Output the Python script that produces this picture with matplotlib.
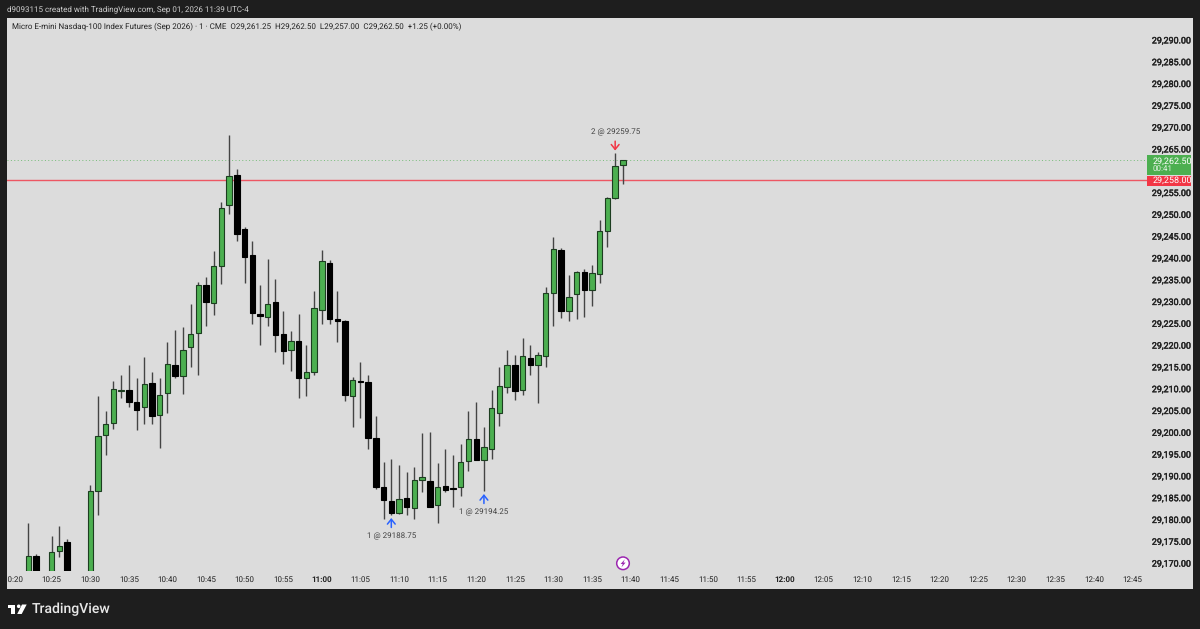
import matplotlib
matplotlib.use("Agg")
import matplotlib.pyplot as plt
import matplotlib.patheffects as pe
from matplotlib.patches import Rectangle, Polygon, Circle
from matplotlib.transforms import Affine2D, blended_transform_factory

# ── 1. Data ───────────────────────────────────────────────
times = [
    "10:22", "10:23", "10:25", "10:26", "10:27", "10:30", "10:31", "10:32", "10:33", "10:34",
    "10:35", "10:36", "10:37", "10:38", "10:39", "10:40", "10:41", "10:42", "10:43", "10:44",
    "10:45", "10:46", "10:47", "10:48", "10:49", "10:50", "10:51", "10:52", "10:53", "10:54",
    "10:55", "10:56", "10:57", "10:58", "10:59", "11:00", "11:01", "11:02", "11:03", "11:04",
    "11:05", "11:06", "11:07", "11:08", "11:09", "11:10", "11:11", "11:12", "11:13", "11:14",
    "11:15", "11:16", "11:17", "11:18", "11:19", "11:20", "11:21", "11:22", "11:23", "11:24",
    "11:25", "11:26", "11:27", "11:28", "11:29", "11:30", "11:31", "11:32", "11:33", "11:34",
    "11:35", "11:36", "11:37", "11:38", "11:39",
]
opens = [
    29160, 29171.75, 29162, 29172.75, 29174.75, 29163, 29186.5, 29199.5, 29202.25, 29209.5,
    29209.75, 29207, 29205.75, 29211.25, 29204, 29209, 29215.5, 29213, 29219.5, 29222.75,
    29233.75, 29229.75, 29238.25, 29252.25, 29259, 29246.75, 29240.75, 29227.25, 29226.5, 29230,
    29222.5, 29219, 29221, 29212.5, 29213.75, 29228, 29238.75, 29226, 29225.5, 29208.25,
    29211.75, 29211.5, 29198.75, 29187.5, 29184.25, 29181.5, 29185, 29182.75, 29189, 29188.75,
    29183.25, 29187.75, 29187.25, 29187.5, 29193.5, 29198.5, 29193.75, 29196.25, 29204.5, 29210.5,
    29215.5, 29209.75, 29217, 29215.5, 29217.5, 29232, 29241.75, 29227.75, 29231.75, 29236.75,
    29232.75, 29236.25, 29246.25, 29253.75, 29261.25,
]
highs = [
    29179.25, 29172, 29176.25, 29178.5, 29175.5, 29188, 29208.25, 29205, 29211.75, 29213.25,
    29215.5, 29212.5, 29217.25, 29213.75, 29212.5, 29220.75, 29223.5, 29224.25, 29229.5, 29234.5,
    29235.75, 29241.5, 29252.75, 29268.25, 29260.5, 29247, 29244, 29233.75, 29239.75, 29235.25,
    29227.75, 29223.25, 29227.25, 29220, 29232.5, 29241.75, 29239.5, 29232.5, 29225.75, 29212.75,
    29216.25, 29213.25, 29203.75, 29193.25, 29194, 29192.5, 29191, 29192, 29199.75, 29200,
    29193, 29196.25, 29194.75, 29197.25, 29205, 29207, 29201.25, 29209.75, 29215, 29219,
    29217.75, 29221.75, 29220, 29218.5, 29233.25, 29244.75, 29242.25, 29236, 29237, 29237.5,
    29238.5, 29248.75, 29254, 29264, 29262.5,
]
lows = [
    29158, 29160, 29160, 29171.5, 29163, 29161, 29181, 29194.75, 29200.75, 29208,
    29205.75, 29200.5, 29202, 29202, 29196.5, 29204.5, 29212.5, 29208.75, 29215, 29213.25,
    29224.5, 29227, 29234, 29250, 29244, 29234.25, 29224.75, 29220, 29224.5, 29218.5,
    29215.75, 29214, 29208, 29208.25, 29213.25, 29224.75, 29224.75, 29220.75, 29207.25, 29201.25,
    29203.25, 29196.25, 29187, 29180.25, 29181, 29181.25, 29181, 29180.25, 29186.25, 29183,
    29179.25, 29186.25, 29183, 29185.5, 29191.25, 29193.75, 29186.5, 29194, 29201.5, 29209,
    29207.5, 29208.5, 29213.25, 29206.75, 29215, 29224.5, 29226.25, 29225.5, 29226, 29226.5,
    29229, 29234.25, 29242.5, 29253.5, 29257,
]
closes = [
    29171.75, 29162, 29172.5, 29174, 29165, 29186.5, 29199.25, 29202, 29210, 29209.75,
    29207, 29205.25, 29211, 29203.75, 29208.5, 29215.75, 29213, 29219, 29222.5, 29233.75,
    29230, 29238.25, 29251.5, 29258.75, 29245.5, 29240.25, 29227.5, 29226.75, 29229.5, 29222.25,
    29218.75, 29221, 29212.5, 29213.75, 29228.5, 29239.25, 29226, 29225.5, 29208.5, 29212,
    29211.5, 29198.75, 29187.5, 29184.5, 29181.5, 29184.75, 29183, 29189, 29189.75, 29183,
    29187.5, 29186.75, 29187, 29193.25, 29198.5, 29193.75, 29196.75, 29205.5, 29210.75, 29215.5,
    29209.5, 29217.5, 29215.5, 29217.75, 29232, 29242, 29227.75, 29231, 29236.75, 29232.75,
    29236.5, 29246.25, 29253.75, 29261, 29262.5,
]

price_ticks = [29170, 29175, 29180, 29185, 29190, 29195, 29200, 29205, 29210, 29215, 29220, 29225,
               29230, 29235, 29240, 29245, 29250, 29255, 29265, 29270, 29275, 29280, 29285, 29290]
time_labels = ["10:20", "10:25", "10:30", "10:35", "10:40", "10:45", "10:50", "10:55", "11:00", "11:05",
               "11:10", "11:15", "11:20", "11:25", "11:30", "11:35", "11:40", "11:45", "11:50", "11:55",
               "12:00", "12:05", "12:10", "12:15", "12:20", "12:25", "12:30", "12:35", "12:40", "12:45"]

last_price = 29262.50
order_price = 29258.00
countdown = "00:41"

# fills: time, candle end the arrow points at, label
buys = [("11:09", 29181, "1 @ 29188.75"), ("11:21", 29186.5, "1 @ 29194.25")]
sells = [("11:38", 29264, "2 @ 29259.75")]

header = "d9093115 created with TradingView.com, Sep 01, 2026 11:39 UTC-4"
legend = ("Micro E-mini Nasdaq-100 Index Futures (Sep 2026) · 1 · CME  O29,261.25  H29,262.50  "
          "L29,257.00  C29,262.50  +1.25 (+0.00%)")

# ── 2. Style ──────────────────────────────────────────────
DARK = "#1e1e1e"
PANE = "#dcdcdc"
GREEN = "#4caf50"
EDGE_GREEN = "#1c3d20"
RED = "#f23645"
BLUE = "#2962ff"
TEXT = "#222222"
plt.rcParams["font.family"] = ["Roboto", "DejaVu Sans"]
plt.rcParams["text.hinting"] = "no_hinting"
plt.rcParams["text.hinting_factor"] = 1
heavy = [pe.withStroke(linewidth=0.3, foreground=TEXT)]


def to_min(t):
    h, m = t.split(":")
    return int(h) * 60 + int(m)


# ── 3. Figure ─────────────────────────────────────────────
W, H = 1200, 629
fig = plt.figure(figsize=(W / 100, H / 100), dpi=100, facecolor=DARK)
px = Affine2D().scale(1, -1).translate(0, H)  # screen pixels, origin top left

fig.add_artist(Rectangle((7, 18), 1186, 571, transform=px, fc=PANE, ec="none", zorder=-1))

ax = fig.add_axes([7 / W, (H - 571) / H, 1140 / W, 553 / H])
ax.patch.set_visible(False)
for s in ax.spines.values():
    s.set_visible(False)
ax.set_xlim(619.22, 766.89)
ax.set_ylim(29168.21, 29295.05)

# ── 4. Levels & candles ───────────────────────────────────
ax.axhline(order_price, color=RED, lw=1.0, alpha=0.8, zorder=1)
ax.axhline(last_price, color=GREEN, lw=0.7, ls=(0, (1, 2.5)), alpha=0.7, zorder=1)

xs = [to_min(t) for t in times]
ax.vlines(xs, lows, highs, color="#444444", lw=1.0, zorder=2)
for x, o, c in zip(xs, opens, closes):
    up = c >= o
    ax.bar(x, abs(c - o), bottom=min(o, c), width=0.7,
           color=GREEN if up else "black", edgecolor=EDGE_GREEN if up else "black",
           linewidth=0.8, zorder=3)

# ── 5. Fills ──────────────────────────────────────────────
for fills, col, sign in [(buys, BLUE, -1), (sells, RED, 1)]:
    for t, p, label in fills:
        ax.annotate("", xy=(to_min(t), p), xytext=(0, sign * 8.8), textcoords="offset points",
                    arrowprops=dict(arrowstyle="->,head_length=0.5,head_width=0.4", color=col, lw=1.1,
                                    shrinkA=0, shrinkB=2, mutation_scale=7), zorder=5)
        ax.annotate(label, xy=(to_min(t), p), xytext=(0, sign * 15.3), textcoords="offset points",
                    ha="center", va="center", fontsize=5.65, color="#444444")

# ── 6. Axes ───────────────────────────────────────────────
ax.yaxis.tick_right()
ax.set_yticks(price_ticks)
ax.set_yticklabels([f"{p:,.2f}" for p in price_ticks], fontsize=6.4, color=TEXT, path_effects=heavy)
ax.set_xticks([to_min(t) for t in time_labels])
ax.set_xticklabels(time_labels, fontsize=5.8, color=TEXT)
ax.tick_params(axis="y", length=0, pad=3.5)
ax.tick_params(axis="x", length=0, pad=3.5)
for lab in ax.get_xticklabels():
    if lab.get_text().endswith(":00"):
        lab.set_fontweight("bold")

# price tags on the scale
tr = blended_transform_factory(ax.transAxes, ax.transData)
ax.add_patch(Rectangle((1.0, 29259.0), 0.0383, 4.6, transform=tr, fc=GREEN, ec="none", clip_on=False, zorder=6))
ax.add_patch(Rectangle((1.0, 29256.5), 0.0383, 2.4, transform=tr, fc=RED, ec="none", clip_on=False, zorder=7))
ax.text(1.0045, last_price - 0.2, f"{last_price:,.2f}", transform=tr, color="white", fontsize=6.4,
        va="center", zorder=8)
ax.text(1.0045, last_price - 2.1, countdown, transform=tr, color="#e4f4e4", fontsize=6.0,
        va="center", zorder=8)
ax.text(1.0045, order_price - 0.2, f"{order_price:,.2f}", transform=tr, color="white", fontsize=6.4,
        va="center", zorder=8)

# ── 7. Header, logo, icon ─────────────────────────────────
fig.add_artist(Rectangle((0, 0), 7, H, transform=px, fc=DARK, ec="none", zorder=1))

fig.text(7 / W, 1 - 9.5 / H, header, color="#cfcfcf", fontsize=5.42, va="center")
fig.text(12 / W, 1 - 27 / H, legend, color=TEXT, fontsize=5.42, va="center")

fig.add_artist(Polygon([(8, 604.5), (15.3, 604.5), (15.3, 614), (11.3, 614), (11.3, 608), (8, 608)],
                       transform=px, fc="white", ec="none", zorder=2))
fig.add_artist(Circle((18.7, 606.3), 1.8, transform=px, fc="white", ec="none", zorder=2))
fig.add_artist(Polygon([(22, 604.5), (26.7, 604.5), (21.7, 614), (17.2, 614)],
                       transform=px, fc="white", ec="none", zorder=2))
fig.text(32 / W, 1 - 609.5 / H, "TradingView", color="#e8e8e8", fontsize=10.2, fontweight="medium",
         va="center")

fig.add_artist(Circle((623, 563.3), 6.3, transform=px, fc="white", ec="#9c27b0", lw=1.1, zorder=2))
fig.add_artist(Polygon([(624.8, 559.3), (620.6, 564), (622.8, 564), (621.4, 567.4), (625.6, 562.6), (623.4, 562.6)],
                       transform=px, fc="#9c27b0", ec="none", zorder=3))

fig.savefig("out.png", dpi=100, facecolor=DARK)
